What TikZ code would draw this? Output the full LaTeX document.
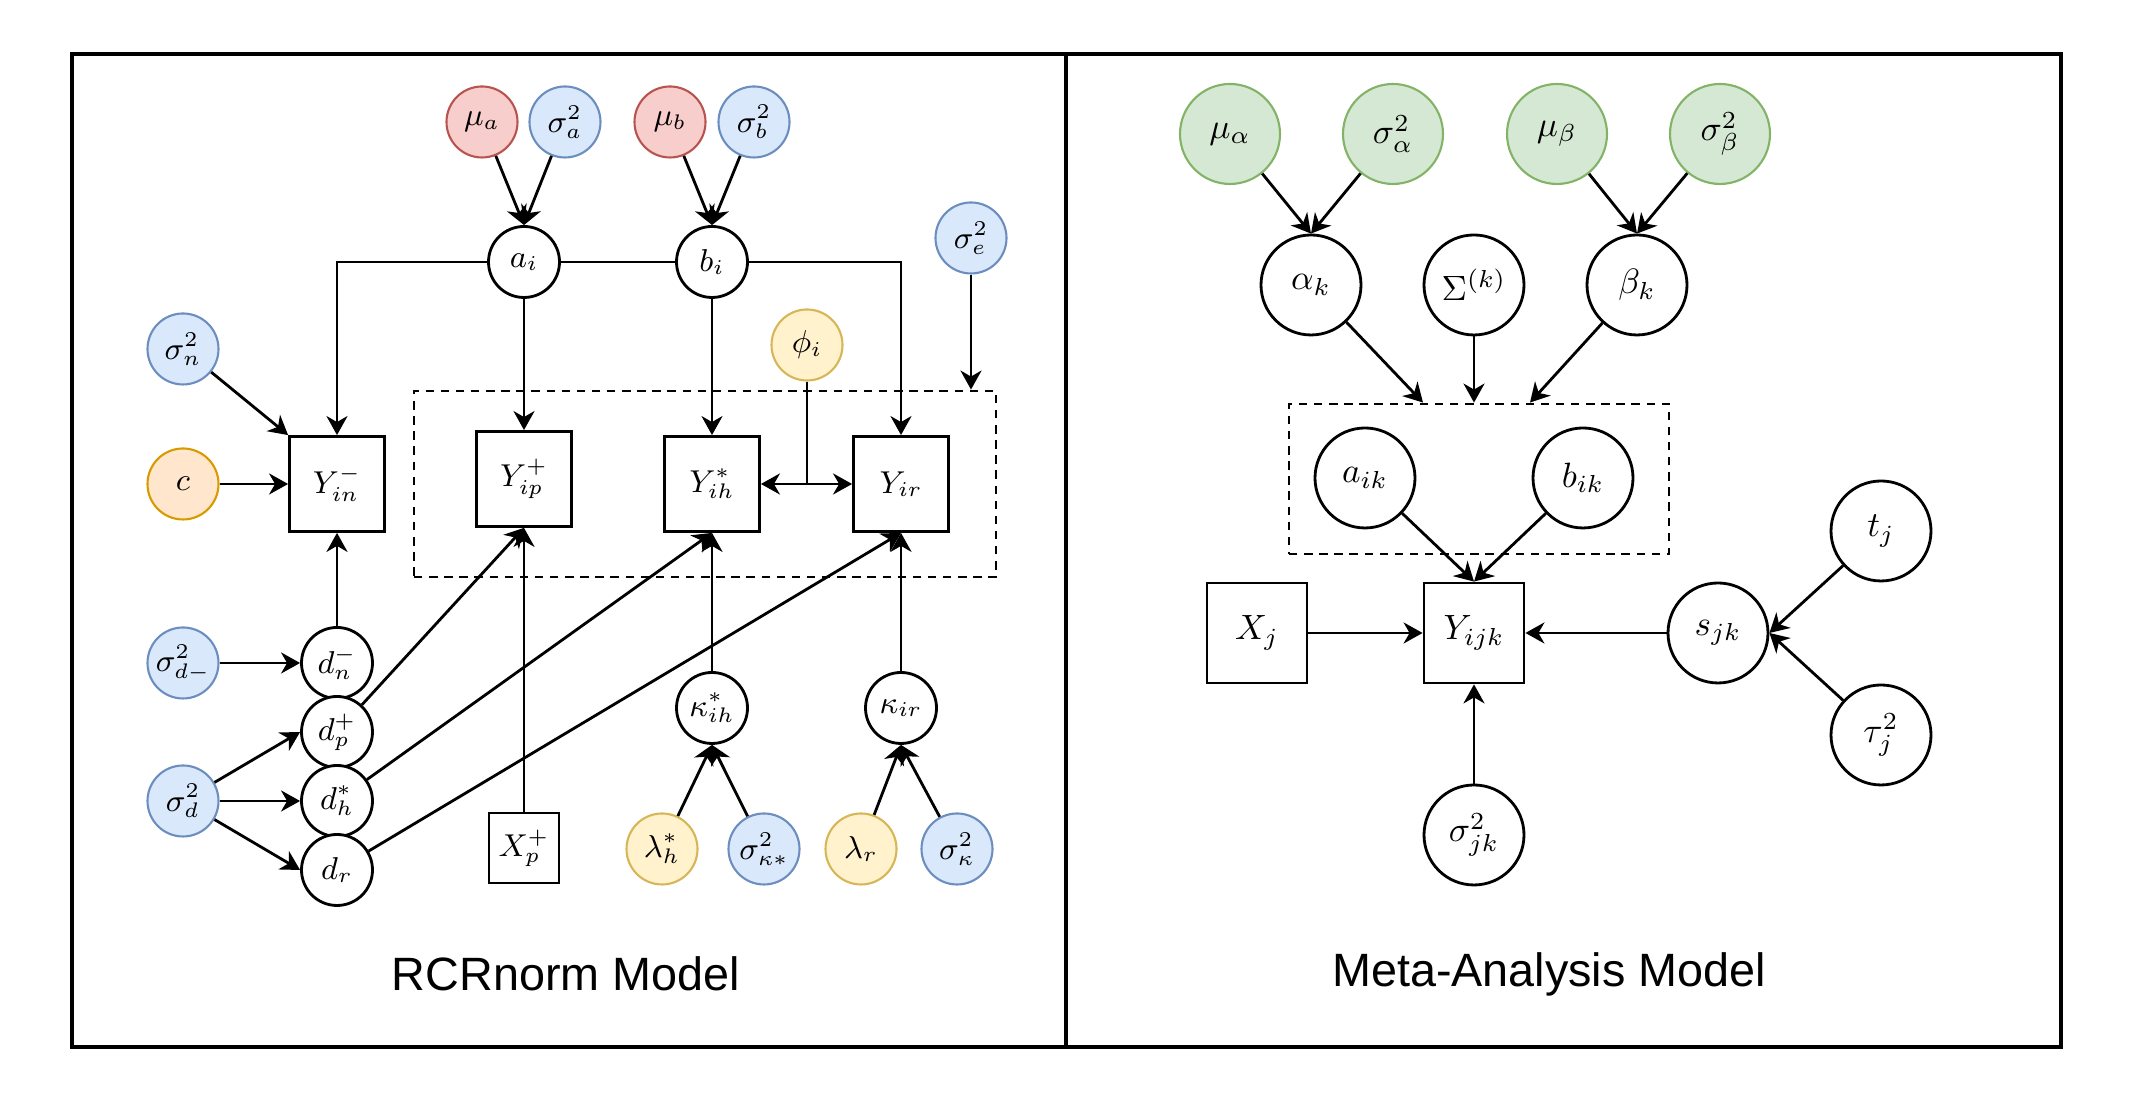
\documentclass[tikz,border=0pt]{standalone}
\usepackage{amsmath}
\usepackage{fontspec}
\setsansfont{Liberation Sans}
\usetikzlibrary{arrows.meta, positioning, calc, backgrounds}
\definecolor{meanfill}{HTML}{F8CECC}
\definecolor{meanline}{HTML}{B85450}
\definecolor{varfill}{HTML}{DAE8FC}
\definecolor{varline}{HTML}{6C8EBF}
\definecolor{fixfill}{HTML}{FFF2CC}
\definecolor{fixline}{HTML}{D6B656}
\definecolor{constfill}{HTML}{FFE6CC}
\definecolor{constline}{HTML}{D79B00}
\definecolor{hypfill}{HTML}{D5E8D4}
\definecolor{hypline}{HTML}{82B366}

\begin{document}
\begin{tikzpicture}[
    >={Stealth[length=1.9mm, width=2.1mm, inset=0.6mm]},
    rv/.style={circle, draw, line width=0.8pt, fill=white, minimum size=0.71cm, inner sep=0pt, font=\small},
    meannode/.style={rv, line width=0.6pt, fill=meanfill, draw=meanline},
    varnode/.style={rv, line width=0.6pt, fill=varfill, draw=varline},
    fixnode/.style={rv, line width=0.6pt, fill=fixfill, draw=fixline},
    constnode/.style={rv, line width=0.6pt, fill=constfill, draw=constline},
    rvbig/.style={rv, minimum size=1cm, font=\normalsize},
    hypnode/.style={rvbig, line width=0.6pt, fill=hypfill, draw=hypline},
    obs/.style={rectangle, draw, line width=0.8pt, fill=white, minimum size=0.95cm, inner sep=0pt, font=\small},
    obsbig/.style={obs, minimum size=1cm, font=\normalsize},
    plate/.style={draw, line width=0.8pt, dash pattern=on 2.4pt off 1.9pt},
    arrow/.style={->, line width=0.8pt},
    title/.style={font=\sffamily\fontsize{13.3}{16}\selectfont}
]
\useasboundingbox (0,0) rectangle (21.30,10.98);

% Panels
\draw[line width=1pt] (0.72,0.51) rectangle (20.61,10.44);
\draw[line width=1.1pt] (10.66,0.51) -- (10.66,10.44);

%%%% RCRnorm model
% Hyperparameters
\node[meannode] (mua) at (4.82, 9.76) {$\mu_a$};
\node[varnode] (siga) at (5.65, 9.76) {$\sigma^2_a$};
\node[meannode] (mub) at (6.70, 9.76) {$\mu_b$};
\node[varnode] (sigb) at (7.54, 9.76) {$\sigma^2_b$};
\node[varnode] (sige) at (9.71, 8.60) {$\sigma^2_e$};

% Probe effects
\node[rv] (ai) at (5.24, 8.36) {$a_i$};
\node[rv] (bi) at (7.12, 8.36) {$b_i$};
\node[varnode] (sign) at (1.83, 7.49) {$\sigma^2_n$};
\node[fixnode] (phi) at (8.07, 7.53) {$\phi_i$};
\node[constnode] (c) at (1.83, 6.14) {$c$};

% Counts
\node[obs] (Yin) at (3.37, 6.14) {$Y^-_{in}$};
\node[obs] (Yip) at (5.24, 6.19) {$Y^+_{ip}$};
\node[obs] (Yih) at (7.12, 6.14) {$Y^*_{ih}$};
\node[obs] (Yir) at (9.01, 6.14) {$Y_{ir}$};
\node[plate, minimum width=5.82cm, minimum height=1.86cm] (plateL) at (7.05, 6.14) {};

% Probe-level effects
\node[varnode] (sigdm) at (1.83, 4.35) {$\sigma^2_{d-}$};
\node[varnode] (sigd) at (1.83, 2.97) {$\sigma^2_d$};
\node[rv] (dn) at (3.37, 4.35) {$d^-_n$};
\node[rv] (dp) at (3.37, 3.66) {$d^+_p$};
\node[rv] (dh) at (3.37, 2.97) {$d^*_h$};
\node[rv] (dr) at (3.37, 2.28) {$d_r$};
\node[obs, minimum size=0.70cm] (Xp) at (5.24, 2.50) {$X^+_p$};

% Sample effects
\node[rv] (kih) at (7.12, 3.90) {$\kappa^*_{ih}$};
\node[rv] (kir) at (9.01, 3.90) {$\kappa_{ir}$};
\node[fixnode] (lamh) at (6.62, 2.49) {$\lambda^*_h$};
\node[varnode] (sigks) at (7.64, 2.49) {$\sigma^2_{\kappa*}$};
\node[fixnode] (lamr) at (8.61, 2.49) {$\lambda_r$};
\node[varnode] (sigk) at (9.57, 2.49) {$\sigma^2_{\kappa}$};

\node[title] at (5.66, 1.24) {RCRnorm Model};

% Arrows
\draw[arrow] (mua) -- (ai.north);
\draw[arrow] (siga) -- (ai.north);
\draw[arrow] (mub) -- (bi.north);
\draw[arrow] (sigb) -- (bi.north);
\begin{scope}[on background layer]
\draw[arrow] (ai.east) -| (Yir.north);
\draw[arrow] (bi.west) -| (Yin.north);
\end{scope}
\draw[arrow] (ai) -- (Yip);
\draw[arrow] (bi) -- (Yih);
\draw[arrow] (sige) -- (sige |- plateL.north);
\draw[arrow] (sign) -- (Yin.north west);
\draw[arrow] (c) -- (Yin);
\draw[arrow] (phi.south) |- (Yih.east);
\draw[arrow] (phi.south) |- (Yir.west);
\draw[arrow] (sigdm) -- (dn);
\draw[arrow] (sigd) -- (dp.west);
\draw[arrow] (sigd) -- (dh.west);
\draw[arrow] (sigd) -- (dr.west);
\draw[arrow] (dn) -- (Yin);
\draw[arrow] (dp) -- (Yip.south);
\draw[arrow] (dh) -- (Yih.south);
\draw[arrow] (dr) -- (Yir.south);
\draw[arrow] (Xp) -- (Yip.south);
\draw[arrow] (kih) -- (Yih.south);
\draw[arrow] (kir) -- (Yir.south);
\draw[arrow] (lamh) -- (kih.south);
\draw[arrow] (sigks) -- (kih.south);
\draw[arrow] (lamr) -- (kir.south);
\draw[arrow] (sigk) -- (kir.south);

%%%% Meta-analysis model
% Hyperparameters
\node[hypnode] (mual) at (12.30, 9.64) {$\mu_\alpha$};
\node[hypnode] (sigal) at (13.93, 9.64) {$\sigma^2_\alpha$};
\node[hypnode] (mube) at (15.57, 9.64) {$\mu_\beta$};
\node[hypnode] (sigbe) at (17.20, 9.64) {$\sigma^2_\beta$};

% Study parameters
\node[rvbig] (alk) at (13.11, 8.13) {$\alpha_k$};
\node[rvbig] (Sig) at (14.74, 8.13) {$\Sigma^{(k)}$};
\node[rvbig] (bek) at (16.37, 8.13) {$\beta_k$};
\node[rvbig] (aik) at (13.65, 6.20) {$a_{ik}$};
\node[rvbig] (bik) at (15.83, 6.20) {$b_{ik}$};
\node[plate, minimum width=3.80cm, minimum height=1.50cm] (plateR) at (14.79, 6.19) {};
\coordinate (inal) at ([xshift=-5.6mm]plateR.north);
\coordinate (inbe) at ([xshift=5.1mm]plateR.north);

% Data
\node[obsbig] (Xj) at (12.57, 4.65) {$X_j$};
\node[obsbig] (Yijk) at (14.74, 4.65) {$Y_{ijk}$};
\node[rvbig] (sjk) at (17.18, 4.65) {$s_{jk}$};
\node[rvbig] (tj) at (18.81, 5.67) {$t_j$};
\node[rvbig] (tauj) at (18.81, 3.63) {$\tau^2_j$};
\node[rvbig] (sigjk) at (14.74, 2.63) {$\sigma^2_{jk}$};

\node[title] at (15.49, 1.24) {Meta-Analysis Model};

% Arrows
\draw[arrow] (mual) -- (alk.north);
\draw[arrow] (sigal) -- (alk.north);
\draw[arrow] (mube) -- (bek.north);
\draw[arrow] (sigbe) -- (bek.north);
\draw[arrow] (alk) -- (inal);
\draw[arrow] (Sig) -- (Sig |- plateR.north);
\draw[arrow] (bek) -- (inbe);
\draw[arrow] (aik) -- (Yijk.north);
\draw[arrow] (bik) -- (Yijk.north);
\draw[arrow] (Xj) -- (Yijk);
\draw[arrow] (sjk) -- (Yijk);
\draw[arrow] (sigjk) -- (Yijk);
\draw[arrow] (tj) -- (sjk.east);
\draw[arrow] (tauj) -- (sjk.east);

\end{tikzpicture}
\end{document}
